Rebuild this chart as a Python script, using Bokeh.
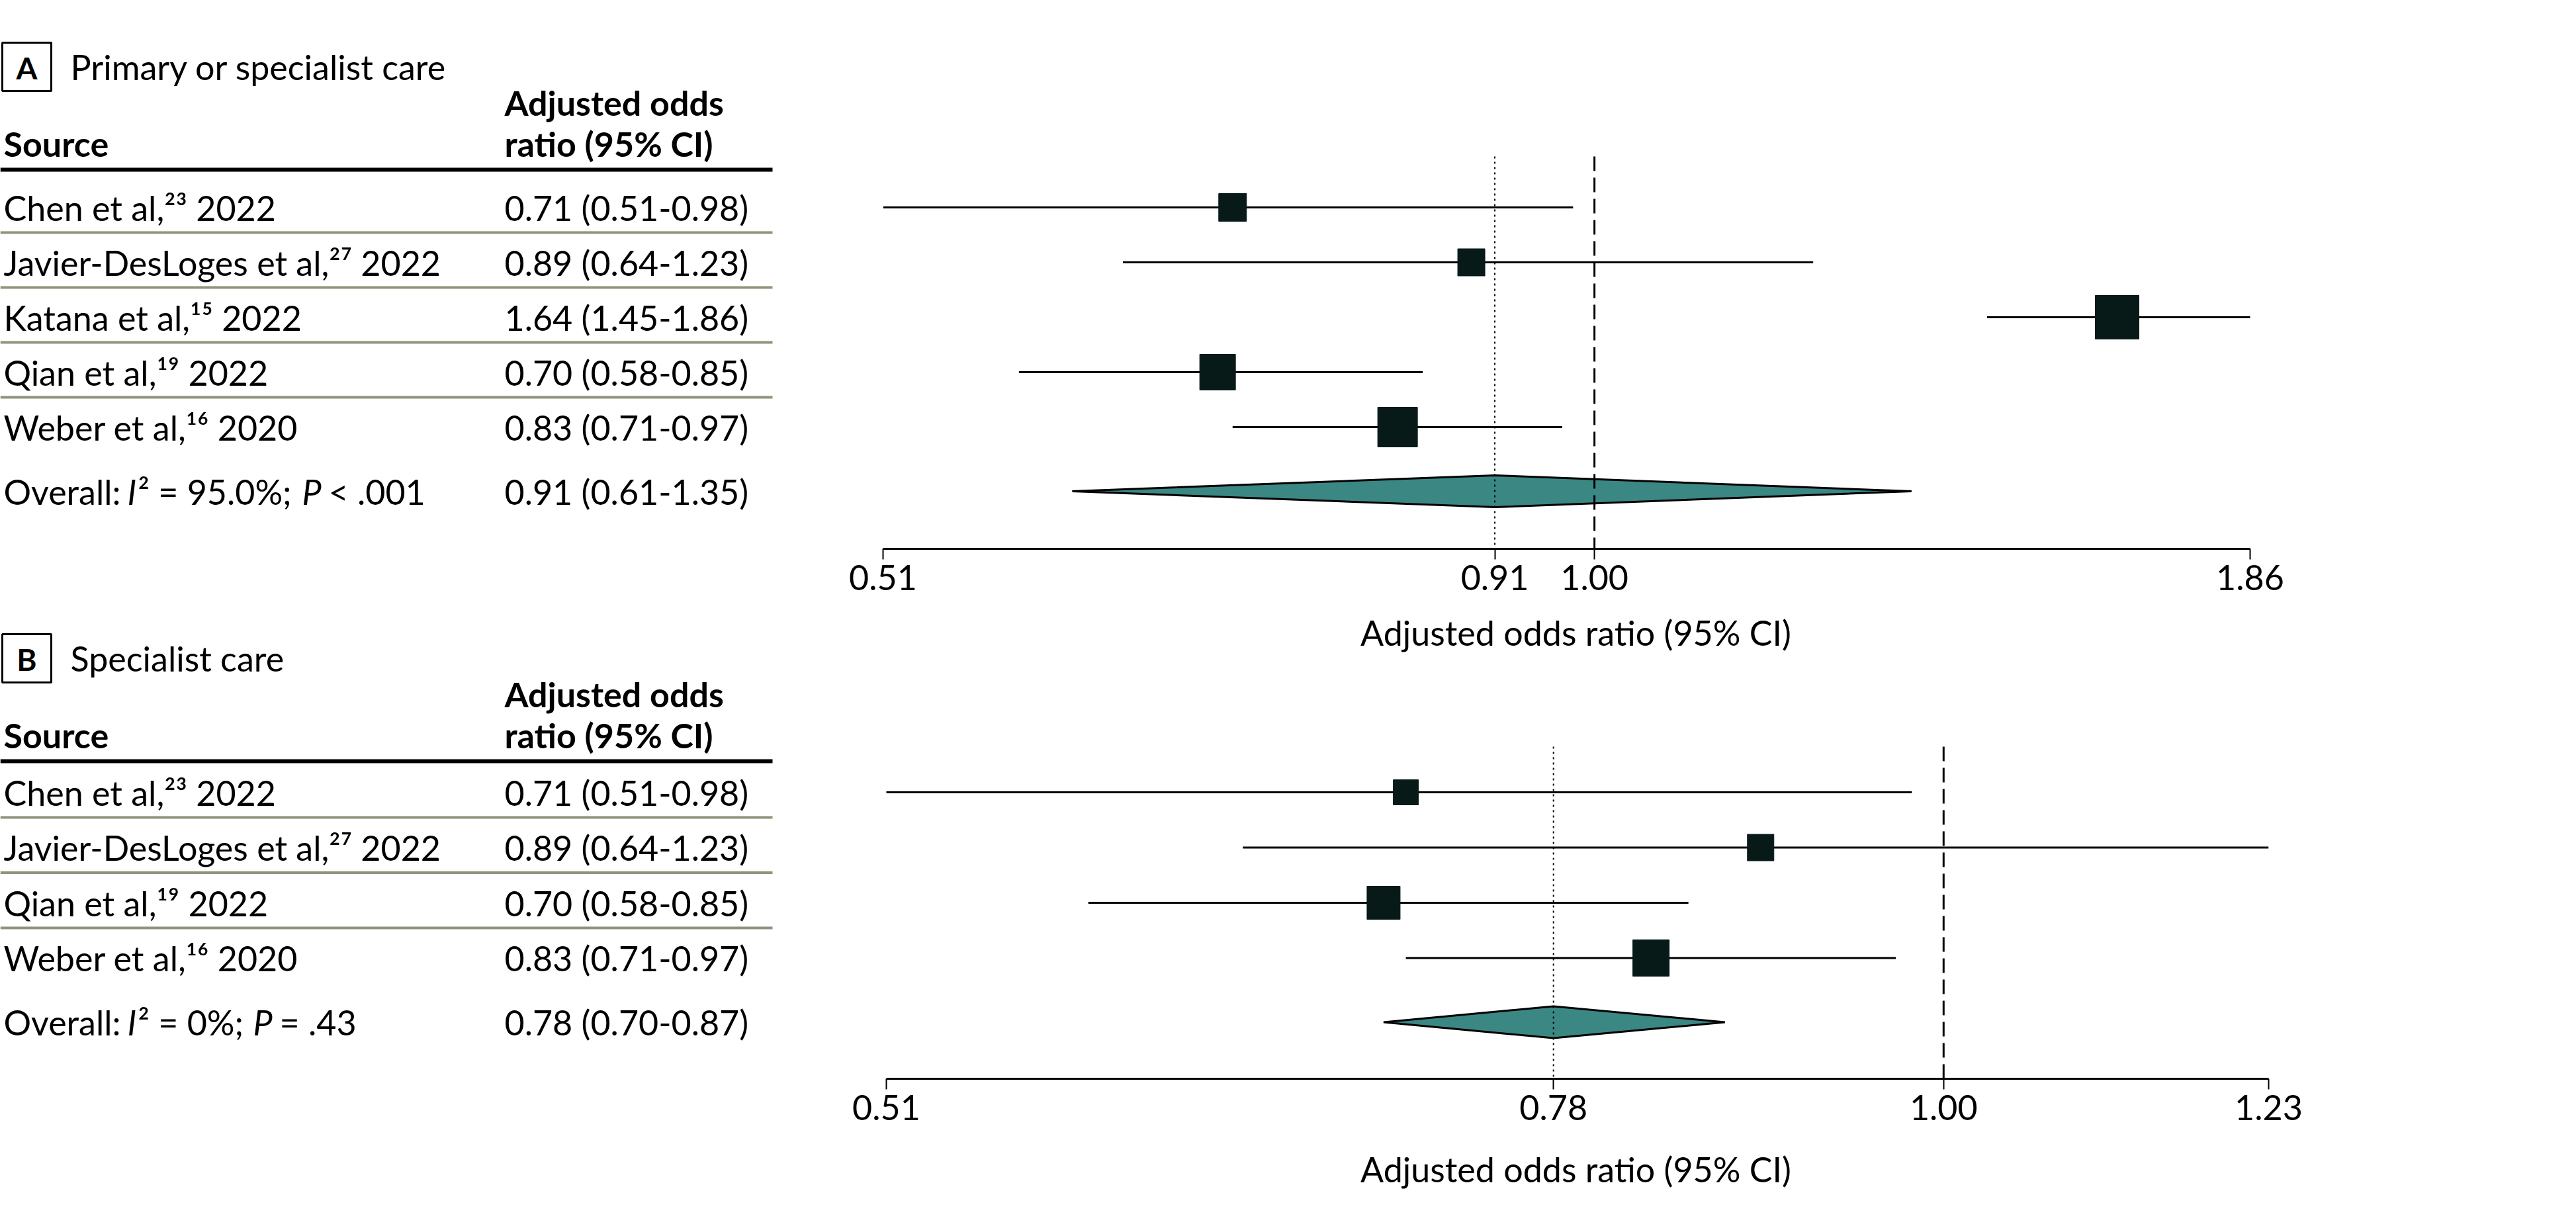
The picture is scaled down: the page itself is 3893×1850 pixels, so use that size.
import math
from bokeh.plotting import figure
from bokeh.layouts import row, column
from bokeh.models import Range1d, FixedTicker, PrintfTickFormatter, ColumnDataSource
from bokeh.core.properties import value
from bokeh.embed import file_html
from bokeh.resources import INLINE

# ---------------- data ----------------
title_a = "Primary or specialist care"
authors_a = ["Chen et al", "Javier-DesLoges et al", "Katana et al", "Qian et al", "Weber et al"]
refs_a = ["23", "27", "15", "19", "16"]
years_a = ["2022", "2022", "2022", "2022", "2020"]
or_a = [0.71, 0.89, 1.64, 0.70, 0.83]
lo_a = [0.51, 0.64, 1.45, 0.58, 0.71]
hi_a = [0.98, 1.23, 1.86, 0.85, 0.97]
overall_a = [0.91, 0.61, 1.35]
i2_a = "95.0%"
p_a = "< .001"
ticks_a = [0.51, 0.91, 1.00, 1.86]

title_b = "Specialist care"
authors_b = ["Chen et al", "Javier-DesLoges et al", "Qian et al", "Weber et al"]
refs_b = ["23", "27", "19", "16"]
years_b = ["2022", "2022", "2022", "2020"]
or_b = [0.71, 0.89, 0.70, 0.83]
lo_b = [0.51, 0.64, 0.58, 0.71]
hi_b = [0.98, 1.23, 0.85, 0.97]
overall_b = [0.78, 0.70, 0.87]
i2_b = "0%"
p_b = "= .43"
ticks_b = [0.51, 0.78, 1.00, 1.23]

x_label = "Adjusted odds ratio (95% CI)"
hdr_1 = "Adjusted odds"
hdr_2 = "ratio (95% CI)"
hdr_src = "Source"

# ---------------- style / layout ----------------
W, H = 3893, 1850
WL = 1250           # width of the table figure
HA = 1030           # height of forest figure A
FONT = "Lato"
FS = "52px"
SQ = "#071a18"
DIA = "#3b8784"
SEP = "#8e957a"
sq_px_a = [42, 41, 66, 54, 60]
sq_px_b = [38, 40, 50, 55]

SUP = str.maketrans("0123456789", "⁰¹²³⁴⁵⁶⁷⁸⁹")

FRAME_L, FRAME_R = 1334, 3428   # common frame of both forest plots (page px)

# panel geometry (page pixels)
A = dict(box=(3, 77, 64, 137), title_x=106, head1=154, head2=216, rule=256, row0=313, step=83,
         ov_gap=97, top=236, axis=829, ax_l=1334, ax_r=3400, seg=[5, 192, 208, 456, 496],
         lab_off=30)
B = dict(box=(3, 77, 958, 1031), title_x=106, head1=1048, head2=1110, rule=1150, row0=1197,
         step=83.5, ov_gap=97, top=1128, axis=1630, ax_l=1339, ax_r=3428,
         seg=[5, 192, 208, 382, 422], lab_off=40)

COL2 = 762
RULE_END = 1167

tab = figure(width=WL, height=H, x_range=Range1d(0, WL), y_range=Range1d(H, 0),
             x_axis_location=None, y_axis_location=None, min_border=0,
             output_backend="svg", toolbar_location=None)
tab.grid.visible = False
tab.outline_line_color = None
tab.background_fill_color = "white"


def txt(x, y, t, style="normal", size=FS, align="left"):
    tab.text(x=x, y=y, text=t, text_font=value(FONT), text_font_size=size,
             text_font_style=style, text_align=align, text_baseline="middle",
             text_color="black")


def table(g, letter, title, authors, refs, years, est, lo, hi, ov, i2, pv):
    l, r, t, b = g["box"]
    tab.quad(left=[l], right=[r], top=[t], bottom=[b], fill_color=None,
             line_color="black", line_width=3)
    txt([(l + r) / 2], [(t + b) / 2 + 1], [letter], style="bold", size="46px", align="center")
    txt([g["title_x"]], [(t + b) / 2], [title])
    txt([5], [g["head2"]], [hdr_src], style="bold")
    txt([COL2], [g["head1"]], [hdr_1], style="bold")
    txt([COL2], [g["head2"]], [hdr_2], style="bold")
    tab.segment(x0=[0], x1=[RULE_END], y0=[g["rule"]], y1=[g["rule"]],
                line_color="black", line_width=6)
    n = len(authors)
    ys = [g["row0"] + g["step"] * i for i in range(n)]
    labels = [f"{a},{rf.translate(SUP)} {yr}" for a, rf, yr in zip(authors, refs, years)]
    ci = [f"{e:.2f} ({a:.2f}-{c:.2f})" for e, a, c in zip(est, lo, hi)]
    txt([5] * n, ys, labels)
    txt([COL2] * n, ys, ci)
    sy = [y + 38 for y in ys[:-1]]
    tab.segment(x0=[0] * len(sy), x1=[RULE_END] * len(sy), y0=sy, y1=sy,
                line_color=SEP, line_width=4)
    oy = ys[-1] + g["ov_gap"]
    parts = ["Overall:", "I", "² = " + i2 + ";", "P", pv]
    styles = ["normal", "italic", "normal", "italic", "normal"]
    for p_, s_, x_ in zip(parts, styles, g["seg"]):
        txt([x_], [oy], [p_], style=s_)
    txt([COL2], [oy], [f"{ov[0]:.2f} ({ov[1]:.2f}-{ov[2]:.2f})"])
    return ys, oy


ys_a, oy_a = table(A, "A", title_a, authors_a, refs_a, years_a, or_a, lo_a, hi_a,
                   overall_a, i2_a, p_a)
ys_b, oy_b = table(B, "B", title_b, authors_b, refs_b, years_b, or_b, lo_b, hi_b,
                   overall_b, i2_b, p_b)


def forest(g, fig_top, fig_h, ticks, ys, est, lo, hi, sizes, ov, oy):
    amin, amax = ticks[0], ticks[-1]
    # extend the log range so that amin/amax fall on the panel's own axis ends
    k = math.log(amax / amin) / (g["ax_r"] - g["ax_l"])
    xmin = amin * math.exp(-k * (g["ax_l"] - FRAME_L))
    xmax = amax * math.exp(k * (FRAME_R - g["ax_r"]))
    fw = W - WL
    p = figure(width=fw, height=fig_h, x_axis_type="log",
               x_range=Range1d(xmin, xmax),
               y_range=Range1d(g["axis"], g["top"] - 8),
               y_axis_location=None,
               min_border_left=FRAME_L - WL, min_border_right=W - FRAME_R,
               min_border_top=g["top"] - 8 - fig_top,
               min_border_bottom=fig_top + fig_h - g["axis"],
               output_backend="svg", toolbar_location=None)
    p.grid.visible = False
    p.outline_line_color = None
    ax = p.xaxis[0]
    ax.bounds = (amin, amax)
    ax.ticker = FixedTicker(ticks=ticks)
    ax.formatter = PrintfTickFormatter(format="%.2f")
    ax.axis_line_width = 3
    ax.axis_line_color = "black"
    ax.major_tick_line_width = 2
    ax.major_tick_line_color = "black"
    ax.major_tick_out = 16
    ax.major_tick_in = 0
    ax.minor_tick_line_color = None
    ax.major_label_text_font = FONT
    ax.major_label_text_font_size = FS
    ax.major_label_text_color = "black"
    ax.major_label_standoff = 8
    ax.axis_label = x_label
    ax.axis_label_text_font = FONT
    ax.axis_label_text_font_size = FS
    ax.axis_label_text_font_style = "normal"
    ax.axis_label_text_color = "black"
    ax.axis_label_standoff = g["lab_off"]

    # overall diamond
    hh = 24
    p.patch(x=[ov[1], ov[0], ov[2], ov[0]], y=[oy, oy - hh, oy, oy + hh],
            fill_color=DIA, line_color="black", line_width=3)
    # reference lines
    p.segment(x0=[ov[0]], x1=[ov[0]], y0=[g["top"]], y1=[g["axis"]],
              line_color="black", line_width=2, line_dash="3 5")
    p.segment(x0=[1.0], x1=[1.0], y0=[g["top"]], y1=[g["axis"]],
              line_color="black", line_width=3, line_dash="22 10")
    src = ColumnDataSource(dict(y=ys, est=est, lo=lo, hi=hi, size=sizes))
    p.segment(x0="lo", x1="hi", y0="y", y1="y", source=src,
              line_color="black", line_width=3)
    p.scatter(x="est", y="y", size="size", marker="square", source=src,
              fill_color=SQ, line_color=SQ)
    return p


fa = forest(A, 0, HA, ticks_a, ys_a, or_a, lo_a, hi_a, sq_px_a, overall_a, oy_a)
fb = forest(B, HA, H - HA, ticks_b, ys_b, or_b, lo_b, hi_b, sq_px_b, overall_b, oy_b)

layout = row(tab, column(fa, fb))
open("out.html", "w").write(file_html(layout, INLINE))
